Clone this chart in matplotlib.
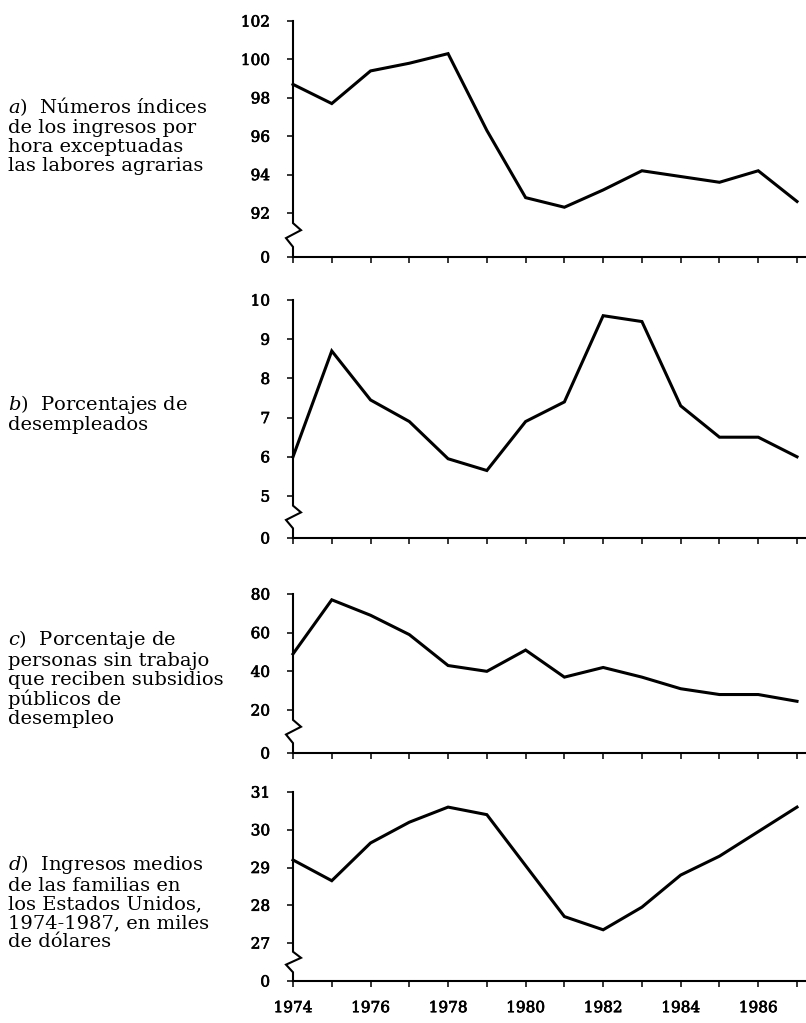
import numpy as np
import matplotlib
matplotlib.use("Agg")
import matplotlib.pyplot as plt
import matplotlib.patheffects as pe

plt.rcParams["font.family"] = ["DejaVu Serif"]
plt.rcParams["mathtext.fontset"] = "dejavuserif"

W, H = 806, 1023
fig = plt.figure(figsize=(W / 100, H / 100), dpi=100)

years = list(range(1974, 1988))
year_labels = [str(y) if y % 2 == 0 else "" for y in years]

# a) numeros indices de los ingresos por hora
ingresos_hora = [98.7, 97.7, 99.4, 99.8, 100.3, 96.3, 92.8, 92.3, 93.2, 94.2, 93.9, 93.6, 94.2, 92.6]
ticks_a = [0, 92, 94, 96, 98, 100, 102]

# b) porcentajes de desempleados
desempleo = [6.0, 8.7, 7.45, 6.9, 5.95, 5.65, 6.9, 7.4, 9.6, 9.45, 7.3, 6.5, 6.5, 6.0]
ticks_b = [0, 5, 6, 7, 8, 9, 10]

# c) porcentaje de personas sin trabajo con subsidio
subsidios = [49, 77, 69, 59, 43, 40, 51, 37, 42, 37, 31, 28, 28, 24.5]
ticks_c = [0, 20, 40, 60, 80]

# d) ingresos medios de las familias, miles de dolares
ingresos_familia = [29.2, 28.65, 29.65, 30.2, 30.6, 30.4, 29.05, 27.7, 27.35, 27.95, 28.8, 29.3, 29.95, 30.6]
ticks_d = [0, 27, 28, 29, 30, 31]

labels = [
    "$a$)  Números índices\nde los ingresos por\nhora exceptuadas\nlas labores agrarias",
    "$b$)  Porcentajes de\ndesempleados",
    "$c$)  Porcentaje de\npersonas sin trabajo\nque reciben subsidios\npúblicos de\ndesempleo",
    "$d$)  Ingresos medios\nde las familias en\nlos Estados Unidos,\n1974-1987, en miles\nde dólares",
]
label_y = [135.5, 413.5, 678, 902]

# pixel layout: (top px, bottom px, gap px)
panels = [
    (ingresos_hora, ticks_a, 21, 257, 44),
    (desempleo, ticks_b, 300, 538, 42),
    (subsidios, ticks_c, 594, 753, 43),
    (ingresos_familia, ticks_d, 792, 981, 38),
]

x0 = 293
ax_w = W - x0
px_year = 38.77
heavy = [pe.withStroke(linewidth=0.5, foreground="black")]


def broken(lo, gap):
    def fwd(y):
        y = np.asarray(y, dtype=float)
        return np.where(y >= lo, y, lo - gap * (lo - y) / lo)

    def inv(v):
        v = np.asarray(v, dtype=float)
        return np.where(v >= lo, v, lo - (lo - v) * lo / gap)

    return fwd, inv


for i, (vals, ticks, top_px, bot_px, gap_px) in enumerate(panels):
    lo, top = ticks[1], ticks[-1]
    px_unit = (bot_px - gap_px - top_px) / (top - lo)
    gap = gap_px / px_unit
    ax = fig.add_axes([x0 / W, 1 - bot_px / H, ax_w / W, (bot_px - top_px) / H])
    ax.set_yscale("function", functions=broken(lo, gap))
    ax.plot(years, vals, color="black", lw=2.2, solid_joinstyle="miter", clip_on=False)
    ax.set_xlim(1974, 1974 + ax_w / px_year)
    ax.set_ylim(0, top)

    ax.set_yticks(ticks)
    ax.set_yticklabels([str(t) for t in ticks])
    ax.set_xticks(years)
    if i == 3:
        ax.set_xticklabels(year_labels)
    else:
        ax.set_xticklabels([])
    ax.minorticks_off()
    for t in ax.get_xticklabels() + ax.get_yticklabels():
        t.set_path_effects(heavy)

    for s in ["top", "right", "left"]:
        ax.spines[s].set_visible(False)
    ax.spines["bottom"].set_linewidth(1.5)
    ax.tick_params(axis="both", direction="out", length=4.5, width=1.1,
                   colors="black", labelsize=11)
    ax.tick_params(axis="y", pad=12)
    ax.tick_params(axis="x", pad=10)

    # y axis line with break zigzag
    dx = 1.0 / ax_w
    zx = [0, 0, 8 * dx, -7 * dx, 0, 0]
    zy = [top, lo * 0.77, lo * 0.61, lo * 0.43, lo * 0.23, 0]
    ax.plot(zx, zy, color="black", lw=1.5, transform=ax.get_yaxis_transform(),
            clip_on=False, solid_joinstyle="miter")

    fig.text(8 / W, 1 - label_y[i] / H, labels[i], ha="left", va="center",
             fontsize=14, linespacing=1.07)

fig.savefig("out.png", dpi=100, facecolor="white")
